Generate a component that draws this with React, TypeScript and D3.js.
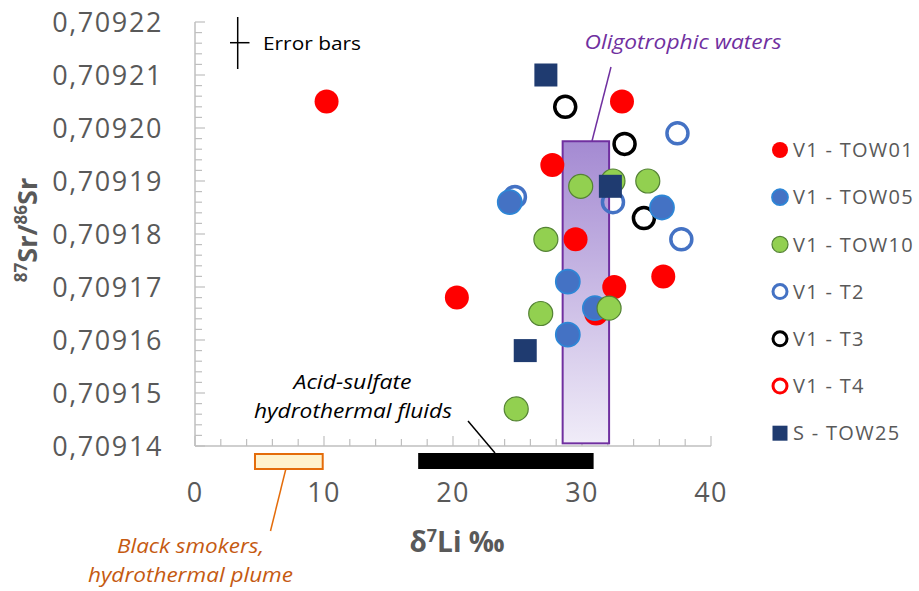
import React from "react";
import * as d3 from "d3";

// ---- data ----
const xTicks = [0, 10, 20, 30, 40];
const yTicks = [0.70914, 0.70915, 0.70916, 0.70917, 0.70918, 0.70919, 0.7092, 0.70921, 0.70922];
const yTickLabels = ["0,70914", "0,70915", "0,70916", "0,70917", "0,70918", "0,70919", "0,70920", "0,70921", "0,70922"];

const tow01: [number, number][] = [
  [10.2, 0.709205], [33.1, 0.709205], [27.7, 0.709193], [29.5, 0.709179],
  [36.3, 0.709172], [32.5, 0.70917], [20.3, 0.709168], [31.1, 0.709165],
];
const tow05: [number, number][] = [
  [24.4, 0.709186], [36.2, 0.709185], [28.9, 0.709171], [31.0, 0.709166], [28.9, 0.709161],
];
const tow10: [number, number][] = [
  [29.9, 0.709189], [32.4, 0.70919], [35.1, 0.70919], [27.2, 0.709179],
  [26.8, 0.709165], [32.1, 0.709166], [24.9, 0.709147],
];
const t2: [number, number][] = [
  [37.4, 0.709199], [32.4, 0.709186], [24.8, 0.709187], [37.7, 0.709179],
];
const t3: [number, number][] = [
  [28.7, 0.709204], [33.3, 0.709197], [34.8, 0.709183],
];
const t4: [number, number][] = [];
const tow25: [number, number][] = [
  [27.2, 0.70921], [32.2, 0.709189], [25.6, 0.709158],
];

const seriesNames = ["V1 - TOW01", "V1 - TOW05", "V1 - TOW10", "V1 - T2", "V1 - T3", "V1 - T4", "S - TOW25"];

// ranges (data units)
const oligoRange = { x0: 28.5, x1: 32.1, y0: 0.7091405, y1: 0.7091975 };
const acidRange = [17.3, 30.9];
const smokerRange = [4.65, 9.9];

type Style = { kind: "circle" | "square"; fill: string; stroke: string; sw: number };
const styles: Style[] = [
  { kind: "circle", fill: "#ff0000", stroke: "#ff0000", sw: 0 },
  { kind: "circle", fill: "#4472c4", stroke: "#2e86d6", sw: 1.8 },
  { kind: "circle", fill: "#92d050", stroke: "#548235", sw: 1.2 },
  { kind: "circle", fill: "none", stroke: "#4472c4", sw: 3.5 },
  { kind: "circle", fill: "none", stroke: "#000000", sw: 3.5 },
  { kind: "circle", fill: "none", stroke: "#ff0000", sw: 3.5 },
  { kind: "square", fill: "#1f3b70", stroke: "#1f3b70", sw: 0 },
];
const seriesData = [tow01, tow05, tow10, t2, t3, t4, tow25];
const drawOrder = [3, 4, 5, 0, 1, 2, 6];

const FONT = "'Open Sans', sans-serif";
const GRAY = "#595959";

export default function App() {
  const x = d3.scaleLinear().domain([0, 40]).range([195, 711]);
  const y = d3.scaleLinear().domain([0.70914, 0.70922]).range([446, 22]);
  const minorY = d3.range(0, 41).map((i) => 0.70914 + i * 0.000002);
  const minorX = d3.range(0, 21).map((i) => i * 2);

  const marker = (s: Style, cx: number, cy: number, key: string, small = false) => {
    if (s.kind === "square") {
      const h = small ? 7.5 : 11.5;
      return <rect key={key} x={cx - h} y={cy - h} width={h * 2} height={h * 2} fill={s.fill} />;
    }
    const r = small ? (s.fill === "none" ? 7 : 8) : s.fill === "none" ? 10.5 : 12;
    return (
      <circle key={key} cx={cx} cy={cy} r={r} fill={s.fill}
        stroke={s.sw > 0 ? s.stroke : "none"} strokeWidth={small && s.fill === "none" ? 3 : s.sw} />
    );
  };

  const ital = (txt: string, cx: number, by: number, len: number, color: string) => (
    <text x={cx} y={by} textAnchor="middle" fontFamily={FONT} fontStyle="italic" fontWeight={500}
      fontSize={20.5} fill={color} textLength={len} lengthAdjust="spacingAndGlyphs">
      {txt}
    </text>
  );

  return (
    <svg width={919} height={591} style={{ position: "absolute", left: 0, top: 0 }}>
      <defs>
        <linearGradient id="oligo" x1="0" y1="0" x2="0" y2="1">
          <stop offset="0" stopColor="#a48ad2" />
          <stop offset="1" stopColor="#f0ecf8" />
        </linearGradient>
      </defs>
      <rect width={919} height={591} fill="#fff" />

      {/* axes */}
      <line x1={x(0)} x2={x(0)} y1={y(0.70922)} y2={y(0.70914)} stroke="#bfbfbf" strokeWidth={1.5} />
      <line x1={x(0)} x2={x(40)} y1={y(0.70914)} y2={y(0.70914)} stroke="#bfbfbf" strokeWidth={1.5} />
      {minorY.map((v, i) => (
        <line key={"ty" + i} x1={x(0)} x2={x(0) + (i % 5 === 0 ? 10 : 7)} y1={y(v)} y2={y(v)} stroke="#bfbfbf" strokeWidth={1.2} />
      ))}
      {minorX.map((v, i) => (
        <line key={"tx" + i} x1={x(v)} x2={x(v)} y1={y(0.70914)} y2={y(0.70914) - (i % 5 === 0 ? 10 : 7)} stroke="#bfbfbf" strokeWidth={1.2} />
      ))}
      {yTicks.map((v, i) => (
        <text key={"ly" + i} x={163} y={y(v)} dy="0.36em" textAnchor="end" fontFamily={FONT} fontSize={27} letterSpacing={1.6} fill={GRAY}>
          {yTickLabels[i]}
        </text>
      ))}
      {xTicks.map((v, i) => (
        <text key={"lx" + i} x={x(v)} y={502} textAnchor="middle" fontFamily={FONT} fontSize={27} letterSpacing={1.2} fill={GRAY}>
          {String(v)}
        </text>
      ))}

      {/* axis titles */}
      <text x={457} y={552} textAnchor="middle" fontFamily={FONT} fontSize={28} fontWeight="bold" fill={GRAY}>
        δ<tspan fontSize={18} dy={-10}>7</tspan><tspan dy={10}>Li ‰</tspan>
      </text>
      <text transform="translate(37,230) rotate(-90)" textAnchor="middle" fontFamily={FONT} fontSize={27} fontWeight="bold" fill={GRAY}>
        <tspan fontSize={17} dy={-10}>87</tspan><tspan dy={10}>Sr/</tspan><tspan fontSize={17} dy={-10}>86</tspan><tspan dy={10}>Sr</tspan>
      </text>

      {/* oligotrophic box */}
      <rect x={x(oligoRange.x0)} y={y(oligoRange.y1)} width={x(oligoRange.x1) - x(oligoRange.x0)}
        height={y(oligoRange.y0) - y(oligoRange.y1)} fill="url(#oligo)" stroke="#7030a0" strokeWidth={2} />
      <line x1={592} y1={141} x2={611} y2={67} stroke="#7030a0" strokeWidth={1.5} />
      {ital("Oligotrophic waters", 683, 49, 197, "#7030a0")}

      {/* acid sulfate bar */}
      <rect x={x(acidRange[0])} y={453} width={x(acidRange[1]) - x(acidRange[0])} height={16} fill="#000" />
      <line x1={468} y1={421} x2={495} y2={453} stroke="#000" strokeWidth={1.5} />
      {ital("Acid-sulfate", 352.5, 389, 118, "#000")}
      {ital("hydrothermal fluids", 353, 418, 198, "#000")}

      {/* black smokers box */}
      <rect x={x(smokerRange[0])} y={454} width={x(smokerRange[1]) - x(smokerRange[0])} height={15} fill="#fff2cc" stroke="#e46c0a" strokeWidth={2} />
      <line x1={285.7} y1={469.5} x2={270.5} y2={531} stroke="#e46c0a" strokeWidth={1.5} />
      {ital("Black smokers,", 190.5, 553, 147, "#c55a11")}
      {ital("hydrothermal plume", 190.5, 582, 205, "#c55a11")}

      {/* error bars key */}
      <line x1={237.7} x2={237.7} y1={17} y2={69} stroke="#000" strokeWidth={1.5} />
      <line x1={230} x2={249.5} y1={42.7} y2={42.7} stroke="#000" strokeWidth={1.5} />
      <text x={263} y={50} fontFamily={FONT} fontSize={19} textLength={98} lengthAdjust="spacingAndGlyphs" fill="#000">Error bars</text>

      {/* points */}
      {drawOrder.map((si) =>
        seriesData[si].map((d, j) => marker(styles[si], x(d[0]), y(d[1]), `p${si}-${j}`))
      )}

      {/* legend */}
      {seriesNames.map((name, i) => {
        const cy = 150 + i * 47.2;
        return (
          <g key={"lg" + i}>
            {marker(styles[i], 780, cy, "lm" + i, true)}
            <text x={793} y={cy} dy="0.36em" fontFamily={FONT} fontSize={20} letterSpacing={1.3} fill={GRAY}>{name}</text>
          </g>
        );
      })}
    </svg>
  );
}
